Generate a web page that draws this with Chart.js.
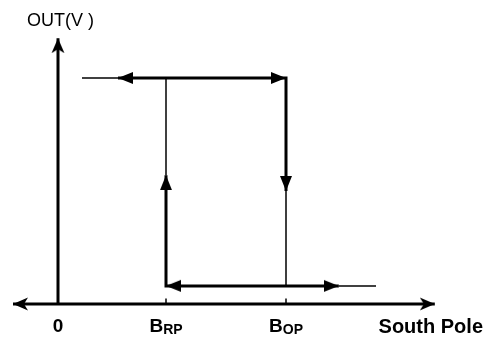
<!DOCTYPE html>
<html>
<head>
<meta charset="utf-8">
<script src="https://cdn.jsdelivr.net/npm/chart.js@4"></script>
<style>
  body { margin: 0; background: #fff; }
  canvas { display: block; }
</style>
</head>
<body>
<canvas id="hysteresis" width="489" height="338"></canvas>
<script>
// field positions along the x axis (0, B_RP, B_OP) and their labels
const fieldMarks = [0, 4.5, 9.5];
const fieldLabels = [['0', ''], ['B', 'RP'], ['B', 'OP']];
// output levels: low / high
const outLevels = [0.4, 5];
// where the sweep starts and ends, and where the mid arrows on each leg point
const sweepRange = [1.0, 13.25];
const legArrows = [2.5, 11.7];    // top leg left arrow, bottom leg right arrow
const switchArrows = [2.85, 2.5]; // up arrow at B_RP, down arrow at B_OP
// axis extents
const xAxisRange = [-1.875, 15.7];
const yAxisTop = 5.88;

const [zero, bRP, bOP] = fieldMarks;
const [low, high] = outLevels;

// arrowhead images, tip at the centre so rotation happens around the tip
function makeArrow(len, wide, barb) {
  const c = document.createElement('canvas');
  c.width = len * 2;
  c.height = len * 2;
  const g = c.getContext('2d');
  g.fillStyle = '#000';
  g.beginPath();
  g.moveTo(len, len);
  g.lineTo(0, len - wide / 2);
  if (barb) g.lineTo(barb, len);
  g.lineTo(0, len + wide / 2);
  g.closePath();
  g.fill();
  return c;
}
const headArrow = makeArrow(15, 12, 0);
const axisArrow = makeArrow(15, 13, 4);

const pts = arr => arr.map(([x, y]) => ({ x, y }));
const seg = (data, width) => ({
  data: pts(data),
  showLine: true,
  borderColor: '#000',
  borderWidth: width,
  pointRadius: 0,
  borderJoinStyle: 'miter',
  tension: 0,
});

const arrowData = [
  [legArrows[0], high, 180, headArrow],
  [bOP, high, 0, headArrow],
  [bOP, switchArrows[1], 90, headArrow],
  [bRP, low, 180, headArrow],
  [legArrows[1], low, 0, headArrow],
  [bRP, switchArrows[0], 270, headArrow],
  [xAxisRange[0], 0, 180, axisArrow],
  [xAxisRange[1], 0, 0, axisArrow],
  [zero, yAxisTop, 270, axisArrow],
];

const datasets = [
  // axes
  seg([[xAxisRange[0], 0], [xAxisRange[1], 0]], 3),
  seg([[zero, 0], [zero, yAxisTop]], 3),
  seg([[bRP, 0], [bRP, 0.12]], 1.5),
  seg([[bOP, 0], [bOP, 0.12]], 1.5),
  // thin parts of the loop
  seg([[sweepRange[0], high], [legArrows[0], high]], 1.5),
  seg([[bRP, switchArrows[0]], [bRP, high]], 1.5),
  seg([[bOP, switchArrows[1]], [bOP, low]], 1.5),
  seg([[legArrows[1], low], [sweepRange[1], low]], 1.5),
  // thick parts of the loop
  seg([[legArrows[0], high], [bOP, high], [bOP, switchArrows[1]]], 3),
  seg([[bRP, switchArrows[0]], [bRP, low], [legArrows[1], low]], 3),
  {
    data: arrowData.map(([x, y]) => ({ x, y })),
    showLine: false,
    pointStyle: arrowData.map(a => a[3]),
    rotation: arrowData.map(a => a[2]),
    pointRadius: 15,
    pointHoverRadius: 15,
  },
];

const FONT = '"Liberation Sans", Arial, sans-serif';

const labelPlugin = {
  id: 'labels',
  afterDraw(chart) {
    const { ctx, scales: { x } } = chart;
    ctx.save();
    ctx.fillStyle = '#000';
    ctx.textBaseline = 'alphabetic';

    ctx.font = '18px ' + FONT;
    ctx.textAlign = 'left';
    ctx.fillText('OUT(V )', 27, 26);

    fieldMarks.forEach((v, i) => {
      const [main, sub] = fieldLabels[i];
      ctx.font = 'bold 19px ' + FONT;
      const w1 = ctx.measureText(main).width;
      ctx.font = 'bold 14px ' + FONT;
      const w2 = sub ? ctx.measureText(sub).width : 0;
      const left = x.getPixelForValue(v) - (w1 + w2) / 2;
      ctx.textAlign = 'left';
      ctx.font = 'bold 19px ' + FONT;
      ctx.fillText(main, left, 332);
      if (sub) {
        ctx.font = 'bold 14px ' + FONT;
        ctx.fillText(sub, left + w1, 334);
      }
    });

    ctx.font = 'bold 20px ' + FONT;
    ctx.textAlign = 'right';
    ctx.fillText('South Pole', 483, 333);
    ctx.restore();
  }
};

new Chart(document.getElementById('hysteresis'), {
  type: 'scatter',
  data: { datasets },
  options: {
    responsive: false,
    animation: false,
    layout: { padding: 0, autoPadding: false },
    plugins: { legend: { display: false }, tooltip: { enabled: false } },
    events: [],
    scales: {
      x: { display: false, min: -58 / 24, max: 431 / 24 },
      y: { display: false, min: -34 / 45.2, max: 304 / 45.2 },
    },
  },
  plugins: [labelPlugin],
});
</script>
</body>
</html>
